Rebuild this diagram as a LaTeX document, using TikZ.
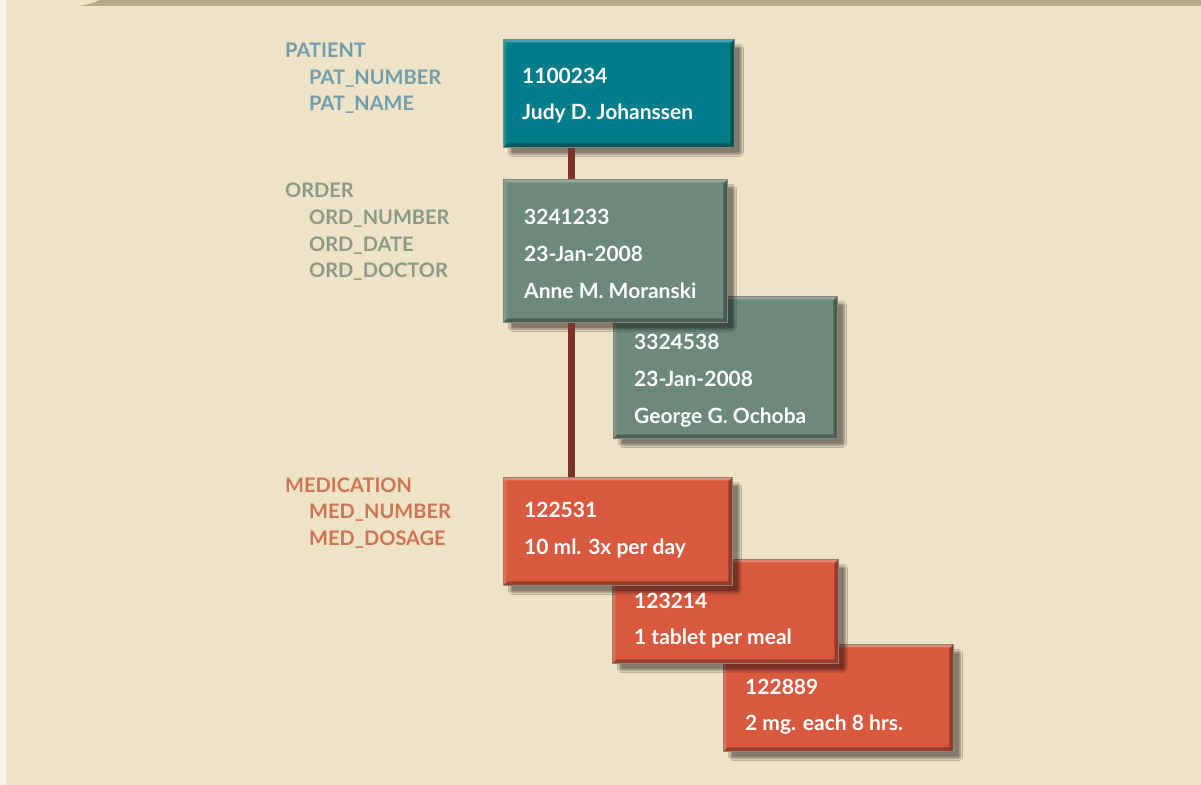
\documentclass[tikz,border=0pt]{standalone}
\usepackage{fontspec}
\setmainfont{Lato}
\usetikzlibrary{shadows.blur,calc}
\definecolor{bgc}{RGB}{239,227,197}
\definecolor{stripc}{RGB}{249,246,236}
\definecolor{bandc}{RGB}{186,168,134}
\definecolor{tealc}{RGB}{0,125,138}
\definecolor{ordc}{RGB}{107,138,124}
\definecolor{medc}{RGB}{216,89,62}
\definecolor{patlbl}{RGB}{111,158,176}
\definecolor{ordlbl}{RGB}{138,154,135}
\definecolor{medlbl}{RGB}{207,116,82}
\definecolor{connc}{RGB}{122,53,39}
\definecolor{edgec}{RGB}{140,132,112}
\tikzset{
  rec/.style={draw=edgec, line width=0.8pt, fill=#1, anchor=north west, inner sep=0,
    blur shadow={shadow xshift=7pt, shadow yshift=-7pt, shadow blur steps=6, shadow blur extra rounding=2pt, shadow opacity=45},
    path picture={
      \fill[white,opacity=0.28] (path picture bounding box.north west) -- (path picture bounding box.north east)
        -- ([xshift=-3pt,yshift=-3pt]path picture bounding box.north east) -- ([xshift=3pt,yshift=-3pt]path picture bounding box.north west) -- cycle;
      \fill[white,opacity=0.15] (path picture bounding box.north west) -- (path picture bounding box.south west)
        -- ([xshift=3pt,yshift=3pt]path picture bounding box.south west) -- ([xshift=3pt,yshift=-3pt]path picture bounding box.north west) -- cycle;
      \fill[black,opacity=0.3] (path picture bounding box.south west) -- (path picture bounding box.south east)
        -- ([xshift=-4pt,yshift=4pt]path picture bounding box.south east) -- ([xshift=4pt,yshift=4pt]path picture bounding box.south west) -- cycle;
      \fill[black,opacity=0.32] (path picture bounding box.north east) -- (path picture bounding box.south east)
        -- ([xshift=-4pt,yshift=4pt]path picture bounding box.south east) -- ([xshift=-4pt,yshift=-4pt]path picture bounding box.north east) -- cycle;
    }},
  btxt/.style={text=white, font=\bfseries\fontsize{21}{21}\selectfont, anchor=base west, inner sep=0},
  lbl/.style={text=#1, font=\bfseries\fontsize{20}{20}\selectfont, anchor=base west, inner sep=0},
  conn/.style={draw=connc, line width=7pt}
}
\begin{document}
\begin{tikzpicture}[x=1pt,y=-1pt]
\useasboundingbox (0,0) rectangle (1201,784);
\fill[bgc] (-10,-10) rectangle (1211,794);
\fill[stripc] (-10,-10) rectangle (6,794);
\fill[bandc] (78,6) .. controls (88,5) and (95,2) .. (100,0) -- (100,-10) -- (1211,-10) -- (1211,6) -- cycle;

% labels
\node[lbl=patlbl] (lpat) at (285,57) {PATIENT};
\node[lbl=patlbl] (lpatnum) at (309,84) {PAT\_NUMBER};
\node[lbl=patlbl] (lpatname) at (309,110) {PAT\_NAME};
\node[lbl=ordlbl] (lord) at (285,197) {ORDER};
\node[lbl=ordlbl] (lordnum) at (309,224) {ORD\_NUMBER};
\node[lbl=ordlbl] (lorddate) at (309,251) {ORD\_DATE};
\node[lbl=ordlbl] (lorddoc) at (309,277) {ORD\_DOCTOR};
\node[lbl=medlbl] (lmed) at (285,492) {MEDICATION};
\node[lbl=medlbl] (lmednum) at (309,518) {MED\_NUMBER};
\node[lbl=medlbl] (lmeddos) at (309,545) {MED\_DOSAGE};

% boxes (back to front)
\node[rec=medc, minimum width=230pt, minimum height=107pt] (med3) at (723,644) {};
\node[rec=medc, minimum width=226pt, minimum height=104pt] (med2) at (612,559) {};
\node[rec=medc, minimum width=229pt, minimum height=108pt] (med1) at (503,477) {};
\node[rec=ordc, minimum width=224pt, minimum height=142pt] (ord2) at (613,296) {};
\node[rec=ordc, minimum width=224pt, minimum height=143pt] (ord1) at (503,179) {};
\node[rec=tealc, minimum width=231pt, minimum height=108pt] (pat) at (503,39) {};

% connectors
\draw[conn] ($(pat.south west)+(68,0)$) -- ($(ord1.north west)+(68,0)$);
\draw[conn] ($(ord1.south west)+(68,0)$) -- ($(med1.north west)+(68,0)$);

% box texts
\node[btxt] (p1) at (522,83) {1100234};
\node[btxt] (p2) at (522,119) {Judy D. Johanssen};
\node[btxt] (o11) at (524,224) {3241233};
\node[btxt] (o12) at (524,261) {23-Jan-2008};
\node[btxt] (o13) at (524,298) {Anne M. Moranski};
\node[btxt] (o21) at (634,349) {3324538};
\node[btxt] (o22) at (634,386) {23-Jan-2008};
\node[btxt] (o23) at (634,423) {George G. Ochoba};
\node[btxt] (m11) at (524,517) {122531};
\node[btxt] (m12) at (524,554) {10 ml. 3x per day};
\node[btxt] (m21) at (634,608) {123214};
\node[btxt] (m22) at (634,644) {1 tablet per meal};
\node[btxt] (m31) at (745,694) {122889};
\node[btxt] (m32) at (745,730) {2 mg. each 8 hrs.};
\end{tikzpicture}
\end{document}
